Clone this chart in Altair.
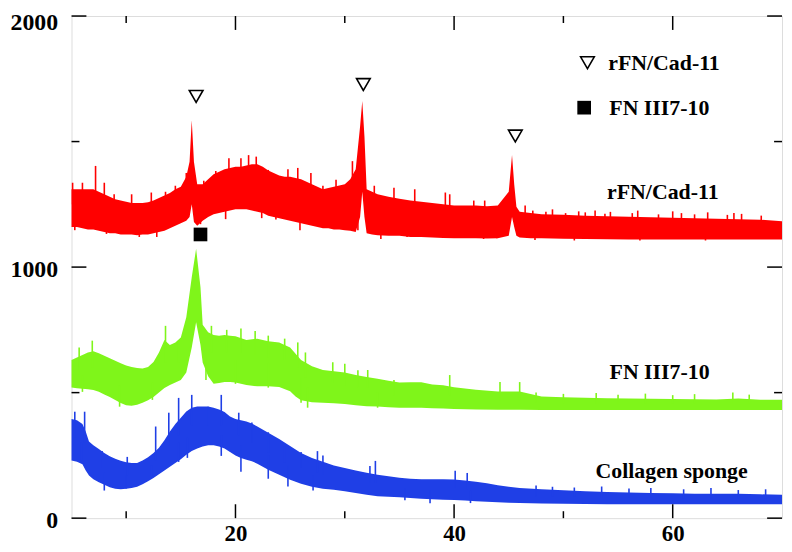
import altair as alt
import pandas as pd

# ---------------- data ----------------
# core bands (x, low edge, high edge) -- intensities in counts
red_x = [5, 5.5, 6, 6.5, 7, 7.5, 8, 8.5, 9, 9.5, 10, 10.5, 11, 11.5, 12, 12.5, 13, 13.5, 14, 14.5,
         15, 15.5, 15.8, 16.0, 16.2, 16.5, 17, 17.5, 18, 18.5, 19, 19.5, 20, 20.5, 21, 21.5, 22, 22.5,
         23, 23.5, 24, 24.5, 25, 25.5, 26, 26.5, 27, 27.5, 28, 28.5, 29, 29.5, 30, 30.5, 31, 31.4,
         31.6, 31.8, 32, 32.5, 33, 34, 35, 36, 37, 38, 39, 40, 41, 42, 43, 44, 45.0, 45.3, 45.5, 45.7,
         46, 47, 48, 50, 52, 54, 56, 58, 60, 62, 64, 66, 68, 70]
red_lo = [1160, 1160, 1155, 1150, 1150, 1145, 1140, 1135, 1135, 1130, 1130, 1130, 1127, 1130, 1130, 1135,
          1140, 1145, 1155, 1165, 1175, 1185, 1200, 1250, 1180, 1165, 1185, 1200, 1210, 1215, 1220, 1225,
          1230, 1230, 1230, 1225, 1220, 1215, 1205, 1200, 1195, 1190, 1185, 1180, 1175, 1170, 1165, 1160,
          1155, 1155, 1150, 1150, 1147, 1145, 1140, 1200, 1300, 1200, 1135, 1130, 1127, 1125, 1125, 1120,
          1120, 1118, 1116, 1115, 1115, 1115, 1114, 1115, 1125, 1200, 1160, 1125, 1118, 1115, 1115, 1113,
          1112, 1111, 1110, 1110, 1110, 1110, 1110, 1110, 1110, 1110]
red_hi = [1310, 1310, 1310, 1310, 1310, 1300, 1290, 1280, 1270, 1265, 1260, 1255, 1255, 1255, 1258, 1265,
          1275, 1285, 1295, 1310, 1320, 1360, 1420, 1585, 1420, 1330, 1330, 1350, 1370, 1380, 1390, 1395,
          1400, 1400, 1405, 1410, 1410, 1400, 1385, 1375, 1365, 1360, 1360, 1355, 1350, 1340, 1330, 1320,
          1310, 1315, 1320, 1325, 1330, 1350, 1390, 1560, 1662, 1520, 1310, 1300, 1290, 1280, 1272, 1265,
          1260, 1255, 1250, 1245, 1245, 1245, 1242, 1245, 1300, 1446, 1330, 1240, 1220, 1215, 1210, 1208,
          1205, 1203, 1201, 1199, 1197, 1195, 1193, 1191, 1189, 1183]

green_x = [5, 5.5, 6, 6.5, 7, 7.5, 8, 8.5, 9, 9.5, 10, 10.5, 11, 11.5, 12, 12.5, 13, 13.5, 14, 14.5,
           15, 15.5, 16, 16.4, 16.8, 17, 17.5, 18, 18.5, 19, 19.5, 20, 21, 22, 23, 24, 25, 25.5, 26, 27,
           28, 29, 30, 31, 32, 33, 34, 35, 36, 37, 38, 39, 40, 42, 44, 46, 48, 50, 52, 54, 56, 58, 60,
           62, 64, 66, 68, 70]
green_lo = [520, 517, 515, 513, 510, 503, 493, 483, 471, 459, 450, 448, 452, 460, 470, 483, 500, 518, 530,
            540, 550, 580, 680, 780, 690, 620, 565, 535, 538, 542, 542, 540, 530, 525, 525, 522, 505, 485,
            470, 462, 460, 458, 455, 450, 446, 445, 442, 440, 440, 440, 438, 437, 435, 433, 432, 432, 431,
            431, 431, 431, 431, 431, 431, 431, 431, 431, 431, 431]
green_hi = [630, 640, 650, 660, 665, 657, 647, 637, 627, 617, 608, 602, 598, 596, 602, 622, 660, 710, 690,
            700, 720, 800, 960, 1073, 920, 770, 740, 730, 727, 730, 727, 725, 710, 715, 705, 700, 680, 655,
            630, 605, 590, 585, 580, 570, 562, 555, 547, 540, 541, 541, 532, 529, 521, 511, 504, 504, 485,
            482, 480, 478, 477, 476, 475, 474, 473, 477, 472, 472]

blue_x = [5, 5.5, 6, 6.3, 6.6, 7, 7.5, 8, 8.5, 9, 9.5, 10, 10.5, 11, 11.5, 12, 12.5, 13, 13.5, 14, 14.5,
          15, 15.5, 16, 16.5, 17, 17.5, 18, 18.5, 19, 19.5, 20, 20.5, 21, 21.5, 22,
          23, 24, 25, 26, 27, 28, 29, 30, 31, 32, 33, 34, 35, 36, 37, 38, 39, 40, 41, 42, 43, 44, 45, 46,
          48, 50, 52, 54, 56, 58, 60, 62, 64, 66, 68, 70]
blue_lo = [230, 225, 215, 190, 170, 155, 143, 133, 123, 117, 115, 117, 120, 125, 135, 147, 160, 175, 190,
           205, 220, 235, 253, 267, 277, 285, 290, 290, 285, 277, 263, 250, 240, 233, 227, 217,
           193, 173, 153, 137, 125, 117, 113, 107, 100, 93, 87, 85, 83, 80, 77, 75, 73, 72, 70, 67, 65,
           63, 61, 60,
           58, 57, 56, 55, 55, 55, 55, 55, 55, 55, 55, 55]
blue_hi = [395, 390, 375, 345, 305, 290, 275, 260, 247, 237, 229, 223, 220, 220, 230, 243, 260, 280, 310,
           345, 375, 400, 425, 440, 445, 445, 445, 440, 433, 423, 405, 395, 390, 385, 377, 365,
           340, 315, 287, 260, 240, 225, 210, 200, 190, 181, 173, 167, 161, 157, 155, 155, 155, 154, 150,
           145, 139, 131, 125, 120,
           115, 111, 107, 104, 102, 100, 99, 97, 97, 97, 95, 93]

# noise spikes: x, tip, base (inside the band)
red_spk_x = [5.1, 6.0, 7.2, 8.0, 8.9, 10.5, 12.3, 13.6, 14.5, 15.5, 17.1, 18.2, 19.4, 20.5, 21.2, 21.9,
             23.0, 24.8, 25.7, 26.9, 28.0, 29.2, 30.7, 32.7, 34.5, 36.4, 39.2, 39.6, 41.8, 42.8, 46.5,
             47.2, 48.4, 49.0, 50.2, 51.4, 52.0, 52.9, 53.8, 54.3, 56.3, 56.8, 58.7, 60.0, 60.8, 62.0,
             63.2, 65.0, 65.6, 66.3, 68.1,
             5.3, 8.2, 11.2, 12.8, 16.8, 19.1, 22.4, 23.7, 25.9, 27.4, 31.2, 32.1, 33.3, 35.7, 38.2,
             40.3, 42.7, 43.9, 47.4, 51.0, 57.0, 63.0]
red_spk_tip = [1336, 1336, 1403, 1336, 1290, 1290, 1297, 1300, 1324, 1375, 1344, 1383, 1434, 1434, 1446,
               1440, 1387, 1390, 1395, 1375, 1324, 1348, 1422, 1324, 1316, 1310, 1297, 1290, 1265, 1265,
               1245, 1225, 1220, 1230, 1215, 1222, 1218, 1225, 1212, 1220, 1215, 1225, 1210, 1222, 1215,
               1210, 1218, 1208, 1215, 1212, 1205,
               1147, 1132, 1120, 1120, 1171, 1191, 1195, 1190, 1147, 1171, 1147, 1140, 1112, 1120, 1120,
               1118, 1112, 1115, 1108, 1106, 1106, 1106]
red_spk_base = [1250, 1250, 1260, 1230, 1210, 1200, 1200, 1210, 1230, 1250, 1260, 1290, 1310, 1320,
                1320, 1320, 1300, 1290, 1280, 1260, 1240, 1240, 1250, 1220, 1210, 1200, 1190, 1190, 1180,
                1180, 1160, 1160, 1160, 1160, 1155, 1155, 1155, 1155, 1150, 1150, 1150, 1150, 1150, 1150,
                1150, 1150, 1150, 1150, 1150, 1150, 1150,
                1220, 1200, 1190, 1190, 1250, 1270, 1280, 1260, 1230, 1230, 1240, 1220, 1200, 1190,
                1180, 1180, 1170, 1170, 1160, 1150, 1150, 1150]

green_spk_x = [5.7, 6.9, 13.6, 14.8, 17.8, 19.2, 20.5, 21.8, 23.0, 24.5, 25.7, 26.4, 28.9, 30.0, 31.2,
               32.1, 34.5, 39.6, 44.2, 46.0, 47.5, 50.0, 53.0, 55.0, 57.5, 60.0, 62.0, 65.5, 67.0,
               6.0, 9.4, 12.4, 17.3, 20.0, 23.0, 26.0, 26.6, 33.0]
green_spk_tip = [680, 707, 766, 707, 766, 750, 755, 745, 727, 715, 700, 660, 621, 615, 589, 590, 550, 570,
                 542, 542, 500, 495, 498, 492, 496, 490, 494, 500, 492,
                 503, 444, 471, 550, 535, 520, 460, 440, 440]
green_spk_base = [590, 600, 620, 620, 660, 660, 660, 650, 640, 630, 600, 560, 540, 530, 520, 520, 490, 490,
                  470, 470, 460, 455, 455, 455, 455, 455, 455, 455, 455,
                  570, 530, 540, 650, 630, 620, 560, 520, 500]

blue_spk_x = [5.3, 6.2, 7.8, 10.1, 12.7, 13.9, 14.8, 16.0, 17.5, 18.7, 20.3, 21.5, 23.0, 24.5, 26.0,
              27.5, 28.0, 32.3, 32.8, 40.1, 41.2, 47.5, 49.0, 51.0, 53.5, 56.0, 58.0, 61.0, 63.5, 66.0,
              68.5,
              5.9, 8.0, 10.0, 12.3, 14.8, 15.6, 18.7, 20.5, 23.0, 24.8, 27.1, 35.5, 37.8, 41.5]
blue_spk_tip = [424, 424, 267, 244, 365, 420, 479, 491, 444, 491, 420, 381, 342, 287, 263, 267, 250, 208,
                228, 189, 180, 130, 125, 122, 126, 118, 120, 115, 120, 112, 115,
                224, 110, 118, 165, 224, 240, 248, 185, 157, 126, 110, 71, 59, 60]
blue_spk_base = [320, 300, 200, 170, 230, 290, 330, 370, 370, 370, 330, 300, 260, 220, 200, 180, 175, 140,
                 140, 120, 115, 85, 85, 85, 80, 80, 80, 78, 78, 78, 78,
                 300, 180, 170, 210, 300, 320, 330, 290, 250, 210, 170, 120, 110, 110]

series_names = ["rFN/Cad-11", "FN III7-10", "Collagen sponge"]
series_colors = ["#ff0000", "#7ff51a", "#1f3fe6"]

tri_x = [16.4, 31.7, 45.6]
tri_y = [1680, 1727, 1522]
sq_x = [16.8]
sq_y = [1130]

legend_sym_x = [52.2, 51.9]
legend_sym_y = [1814, 1635]
legend_text = ["rFN/Cad-11", "FN III7-10"]
legend_text_x = [54.1, 54.2]

label_x = [59.1, 58.8, 59.9]
label_y = [1297, 581, 189]

x_major = [20, 40, 60]
x_minor = [10, 30, 50]
y_major = [0, 1000, 2000]
y_minor = [500, 1500]

W, H = 716, 506
FONT = "Liberation Serif"

# ---------------- build tables ----------------
rows, spk = [], []
for name, xs_, lo, hi, sx, st, sb in [
        (series_names[0], red_x, red_lo, red_hi, red_spk_x, red_spk_tip, red_spk_base),
        (series_names[1], green_x, green_lo, green_hi, green_spk_x, green_spk_tip, green_spk_base),
        (series_names[2], blue_x, blue_lo, blue_hi, blue_spk_x, blue_spk_tip, blue_spk_base)]:
    for a, b, c in zip(xs_, lo, hi):
        rows.append({"series": name, "x": a, "lo": b, "hi": c})
    for a, b, c in zip(sx, st, sb):
        spk.append({"series": name, "x": a, "tip": b, "base": c})
df = pd.DataFrame(rows)
spk_df = pd.DataFrame(spk)

xs = alt.Scale(domain=[5, 70], nice=False, zero=False)
ys = alt.Scale(domain=[0, 2000], nice=False)
cs = alt.Scale(domain=series_names, range=series_colors)

xaxis = alt.Axis(values=x_major, tickSize=0, domain=False, grid=False, title=None, format="d",
                 labelFont=FONT, labelFontWeight="bold", labelFontSize=23, labelColor="black",
                 labelPadding=5)
yaxis = alt.Axis(values=y_major, tickSize=0, domain=False, grid=False, title=None, format="d",
                 labelFont=FONT, labelFontWeight="bold", labelFontSize=24, labelColor="black",
                 labelPadding=14,
                 labelOffset={"condition": {"test": "datum.value == 2000", "value": 7}, "value": 2})

bands = alt.Chart(df).mark_area(opacity=1, strokeWidth=0).encode(
    x=alt.X("x:Q", scale=xs, axis=xaxis),
    y=alt.Y("lo:Q", scale=ys, axis=yaxis),
    y2="hi:Q",
    color=alt.Color("series:N", scale=cs, legend=None),
)

spikes = alt.Chart(spk_df).mark_rule(strokeWidth=1.6, opacity=1).encode(
    x=alt.X("x:Q", scale=xs),
    y=alt.Y("tip:Q", scale=ys),
    y2="base:Q",
    color=alt.Color("series:N", scale=cs, legend=None),
)

def ticks_x(vals, length):
    d = pd.DataFrame({"v": vals})
    b = alt.Chart(d).mark_rule(color="black", strokeWidth=1.5).encode(
        x=alt.X("v:Q", scale=xs), y=alt.value(H), y2=alt.value(H - length))
    t = alt.Chart(d).mark_rule(color="black", strokeWidth=1.5).encode(
        x=alt.X("v:Q", scale=xs), y=alt.value(0), y2=alt.value(length))
    return b + t

def ticks_y(vals, length):
    d = pd.DataFrame({"v": vals})
    l = alt.Chart(d).mark_rule(color="black", strokeWidth=1.5).encode(
        y=alt.Y("v:Q", scale=ys), x=alt.value(0), x2=alt.value(length))
    r = alt.Chart(d).mark_rule(color="black", strokeWidth=1.5).encode(
        y=alt.Y("v:Q", scale=ys), x=alt.value(W), x2=alt.value(W - length))
    return l + r

tri_df = pd.DataFrame({"x": tri_x + [legend_sym_x[0]], "y": tri_y + [legend_sym_y[0]]})
tris = alt.Chart(tri_df).mark_point(shape="triangle-down", filled=False, color="black",
                                    strokeWidth=1.6, size=190, opacity=1).encode(
    x=alt.X("x:Q", scale=xs), y=alt.Y("y:Q", scale=ys))

sq_df = pd.DataFrame({"x": sq_x + [legend_sym_x[1]], "y": sq_y + [legend_sym_y[1]]})
sqs = alt.Chart(sq_df).mark_square(color="black", opacity=1, size=190).encode(
    x=alt.X("x:Q", scale=xs), y=alt.Y("y:Q", scale=ys))

leg_df = pd.DataFrame({"x": legend_text_x, "y": legend_sym_y, "t": legend_text})
leg = alt.Chart(leg_df).mark_text(align="left", baseline="middle", font=FONT, fontWeight="bold",
                                   fontSize=22, color="black").encode(
    x=alt.X("x:Q", scale=xs), y=alt.Y("y:Q", scale=ys), text="t:N")

lab_df = pd.DataFrame({"x": label_x, "y": label_y, "t": series_names})
labs = alt.Chart(lab_df).mark_text(align="center", baseline="middle", font=FONT, fontWeight="bold",
                                   fontSize=22, color="black").encode(
    x=alt.X("x:Q", scale=xs), y=alt.Y("y:Q", scale=ys), text="t:N")

chart = alt.layer(
    bands, spikes,
    ticks_x(x_major, 14), ticks_x(x_minor, 7),
    ticks_y(y_major, 15), ticks_y(y_minor, 8),
    tris, sqs, leg, labs,
).properties(
    width=W, height=H,
    autosize=alt.AutoSizeParams(type="none"),
    padding={"left": 64, "top": 6, "right": 2, "bottom": 30},
).configure_view(stroke="black", strokeWidth=1.5).configure(background="white")

chart.save("out.html", embed_options={"renderer": "svg", "actions": False})
